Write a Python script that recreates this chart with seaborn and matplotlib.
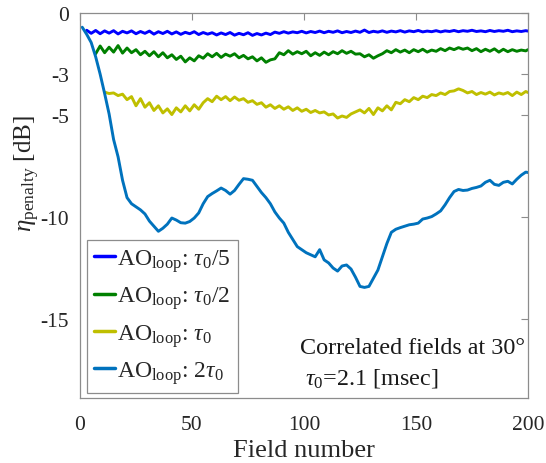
import numpy as np
import pandas as pd
import matplotlib
matplotlib.use("Agg")
import matplotlib.pyplot as plt
import seaborn as sns

# ---- data -------------------------------------------------------------
fields_fifth = list(range(3, 200, 2)) + [200]
eta_fifth = [
    -0.85, -1.00, -0.86, -1.02, -0.88, -0.99, -0.87, -1.03, -0.90, -0.98,
    -0.88, -1.02, -0.91, -1.00, -0.89, -1.04, -0.92, -1.01, -0.90, -1.03,
    -0.93, -1.05, -0.95, -1.02, -0.92, -1.06, -0.96, -1.04, -0.97, -1.08,
    -0.98, -1.06, -0.96, -1.09, -1.00, -1.07, -0.97, -1.10, -1.01, -1.08,
    -0.99, -1.06, -0.94, -1.00, -0.92, -0.99, -0.93, -0.97, -0.90, -0.98,
    -0.91, -0.96, -0.89, -0.97, -0.90, -0.95, -0.88, -0.97, -0.91, -0.96,
    -0.89, -0.95, -0.84, -0.96, -0.90, -0.94, -0.88, -0.95, -0.89, -0.93,
    -0.87, -0.94, -0.88, -0.92, -0.86, -0.93, -0.89, -0.92, -0.87, -0.93,
    -0.88, -0.91, -0.86, -0.92, -0.87, -0.90, -0.85, -0.91, -0.88, -0.92,
    -0.86, -0.91, -0.87, -0.90, -0.85, -0.92, -0.88, -0.91, -0.87,
    -0.89,
]

fields_half = list(range(7, 200, 2)) + [200]
eta_half = [
    -2.00, -1.62, -1.95, -1.68, -1.92, -1.60, -1.97, -1.72, -1.95, -1.80,
    -2.05, -1.88, -2.10, -1.90, -2.15, -1.95, -2.20, -2.05, -2.28, -2.12,
    -2.40, -2.20, -2.35, -2.10, -2.22, -2.00, -2.15, -1.98, -2.18, -2.02,
    -2.12, -2.00, -2.20, -2.08, -2.25, -2.15, -2.35, -2.20, -2.42, -2.30,
    -2.25, -1.95, -2.05, -1.85, -2.02, -1.90, -2.00, -1.88, -2.10, -1.95,
    -2.08, -1.92, -2.05, -1.90, -2.00, -1.85, -1.98, -1.88, -2.02, -2.00,
    -2.15, -2.05, -2.22, -2.10, -2.00, -1.85, -1.95, -1.80, -1.92, -1.82,
    -1.95, -1.80, -1.90, -1.78, -1.92, -1.82, -1.88, -1.75, -1.85, -1.72,
    -1.80, -1.70, -1.78, -1.72, -1.85, -1.75, -1.90, -1.78, -1.88, -1.76,
    -1.92, -1.78, -1.90, -1.80, -1.88, -1.82, -1.86,
    -1.80,
]

fields_one = list(range(11, 200, 2)) + [200]
eta_one = [
    -3.88, -3.95, -3.92, -4.05, -3.98, -4.25, -4.10, -4.55, -4.20, -4.62,
    -4.40, -4.78, -4.55, -4.90, -4.70, -4.98, -4.65, -4.85, -4.55, -4.80,
    -4.50, -4.72, -4.40, -4.20, -4.35, -4.08, -4.25, -4.10, -4.30, -4.12,
    -4.28, -4.20, -4.38, -4.30, -4.48, -4.40, -4.62, -4.50, -4.68, -4.55,
    -4.72, -4.60, -4.78, -4.65, -4.82, -4.72, -4.88, -4.78, -4.90, -4.85,
    -5.00, -4.95, -5.15, -5.05, -5.12, -4.95, -4.85, -4.75, -4.90, -4.68,
    -4.98, -4.65, -4.80, -4.55, -4.75, -4.38, -4.45, -4.25, -4.35, -4.15,
    -4.25, -4.08, -4.15, -4.00, -4.05, -3.92, -4.00, -3.85, -3.82, -3.72,
    -3.80, -3.92, -3.85, -4.00, -3.90, -3.98, -3.88, -4.02, -3.92, -3.98,
    -3.90, -4.05, -3.88, -4.00, -3.85,
    -3.90,
]

fields_two = list(range(1, 200, 2)) + [200]
eta_two = [
    -0.70, -1.05, -1.45, -2.15, -3.00, -3.95, -4.95, -6.20, -7.05, -8.20,
    -9.05, -9.35, -9.50, -9.65, -9.85, -10.20, -10.45, -10.70, -10.55, -10.35,
    -10.05, -10.15, -10.28, -10.30, -10.22, -10.05, -9.80, -9.35, -9.00, -8.85,
    -8.72, -8.58, -8.70, -8.88, -8.70, -8.40, -8.12, -8.15, -8.20, -8.50,
    -8.80, -9.05, -9.35, -9.75, -10.05, -10.30, -10.75, -11.10, -11.45, -11.60,
    -11.75, -11.85, -11.95, -11.60, -12.10, -12.25, -12.50, -12.65, -12.40, -12.35,
    -12.55, -12.95, -13.40, -13.45, -13.40, -13.00, -12.60, -11.95, -11.30, -10.75,
    -10.60, -10.52, -10.45, -10.38, -10.35, -10.30, -10.10, -10.05, -9.98, -9.85,
    -9.70, -9.40, -9.05, -8.75, -8.65, -8.70, -8.68, -8.60, -8.55, -8.48,
    -8.30, -8.20, -8.40, -8.45, -8.30, -8.25, -8.38, -8.15, -7.95, -7.80,
    -7.82,
]

series_labels = [
    r"AO$_{\mathrm{loop}}$: $\tau_0/5$",
    r"AO$_{\mathrm{loop}}$: $\tau_0/2$",
    r"AO$_{\mathrm{loop}}$: $\tau_0$",
    r"AO$_{\mathrm{loop}}$: $2\tau_0$",
]
series_colors = ["#0000ff", "#008000", "#bfbf00", "#0072bd"]

x_ticks = [0, 50, 100, 150, 200]
y_ticks = [0, -3, -5, -10, -15]

# ---- style ------------------------------------------------------------
sns.set_theme(style="white")
plt.rcParams["font.family"] = ["Liberation Serif", "DejaVu Serif"]
plt.rcParams["mathtext.fontset"] = "custom"
plt.rcParams["mathtext.rm"] = "Liberation Serif"
plt.rcParams["mathtext.it"] = "Liberation Serif:italic"
plt.rcParams["mathtext.bf"] = "Liberation Serif:bold"

frames = []
for xs, ys, lab in zip([fields_fifth, fields_half, fields_one, fields_two],
                       [eta_fifth, eta_half, eta_one, eta_two],
                       series_labels):
    frames.append(pd.DataFrame({"field": xs, "eta": ys, "series": lab}))
df = pd.concat(frames, ignore_index=True)

fig = plt.figure(figsize=(5.46, 4.64), dpi=100)
ax = fig.add_axes([0.1465, 0.140, 0.8205, 0.830])

sns.lineplot(data=df, x="field", y="eta", hue="series",
             hue_order=series_labels, palette=series_colors,
             linewidth=2.1, estimator=None, sort=True, ax=ax)

ax.set_xlim(0, 200)
ax.set_ylim(-18.87, 0)
ax.set_xticks(x_ticks)
ax.set_yticks(y_ticks)
ax.set_xticklabels([str(v) for v in x_ticks])
ax.set_yticklabels([str(v) for v in y_ticks])

for sp in ax.spines.values():
    sp.set_color("#8c8c8c")
    sp.set_linewidth(0.9)
ax.tick_params(direction="in", length=5, width=0.8, color="#8c8c8c",
               top=True, right=True, labelsize=15.5, labelcolor="#262626")
ax.tick_params(axis="x", pad=12)
ax.tick_params(axis="y", pad=8)

ax.set_xlabel("Field number", fontsize=19, color="#262626", labelpad=4)
ax.set_ylabel(r"$\eta_{\mathrm{penalty}}$ [dB]", fontsize=18, color="#262626")
ax.yaxis.set_label_coords(-0.085, 0.585)

leg = ax.legend(loc="lower left", bbox_to_anchor=(0.0156, 0.013),
                fontsize=17, frameon=True, fancybox=False, framealpha=1,
                edgecolor="#8c8c8c", handlelength=0.9, handletextpad=0.08,
                borderpad=0.3, labelspacing=0.45, borderaxespad=0)
leg.get_frame().set_linewidth(0.9)
for t in leg.get_texts():
    t.set_color("#262626")
for h in leg.get_lines():
    h.set_linewidth(2.5)

ax.text(98.2, -16.67, "Correlated fields at 30°", fontsize=17.4,
        color="#1a1a1a", va="baseline", ha="left")
ax.text(100.4, -18.14, r"$\tau_0$=2.1 [msec]", fontsize=17.4,
        color="#1a1a1a", va="baseline", ha="left")

fig.savefig("out.png", dpi=100)
